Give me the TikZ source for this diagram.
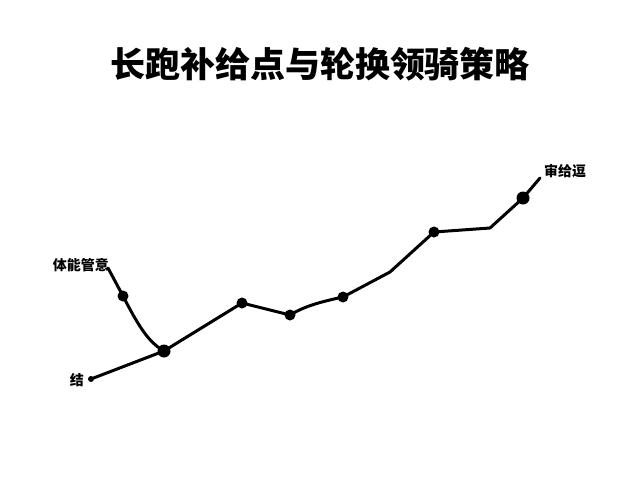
\documentclass[tikz,border=0pt]{standalone}
\usepackage{fontspec}
\newfontfamily\cjk{Noto Sans CJK SC}
\begin{document}
\begin{tikzpicture}[x=1pt,y=-1pt,
  route/.style={line width=3pt,line cap=round,line join=round,black},
  bigdot/.style={circle,fill=black,inner sep=0pt,minimum size=13pt},
  middot/.style={circle,fill=black,inner sep=0pt,minimum size=11pt},
  tinydot/.style={circle,fill=black,inner sep=0pt,minimum size=6pt},
  lbl/.style={font=\cjk\bfseries\fontsize{14}{15}\selectfont,inner sep=0pt}]
\useasboundingbox[fill=white] (0,0) rectangle (640,480);
\node[font=\cjk\bfseries\fontsize{35}{38}\selectfont] (title) at (320,64) {长跑补给点与轮换领骑策略};
% nodes
\coordinate (s) at (91,379);
\node[tinydot] (sd) at (s) {};
\node[bigdot] (j) at (164,351) {};
\coordinate (lt) at (108,268);
\node[middot] (l1) at (123,296) {};
\node[middot] (p1) at (242,303) {};
\node[middot] (p2) at (290,315) {};
\node[middot] (p3) at (343,297) {};
\coordinate (b1) at (390,272);
\node[middot] (p4) at (434,232) {};
\coordinate (b2) at (490,228);
\node[bigdot] (p5) at (523,198) {};
\coordinate (e) at (540,178);
% labels
\node[lbl,anchor=east] (la) at (109,265) {体能管意};
\node[lbl,anchor=east] (lb) at (84,380) {结};
\node[lbl,anchor=west] (lc) at (544,171) {审给逗};
% connectors
\draw[route] (s) -- (j.center);
\draw[route] (lt) -- (l1.center) .. controls (138,325) and (148,342) .. (j.center);
\draw[route] (j.center) -- (p1.center) -- (p2.center)
  .. controls (305,306) and (320,302) .. (p3.center)
  -- (b1) -- (p4.center) -- (b2) -- (p5.center) -- (e);
\end{tikzpicture}
\end{document}
